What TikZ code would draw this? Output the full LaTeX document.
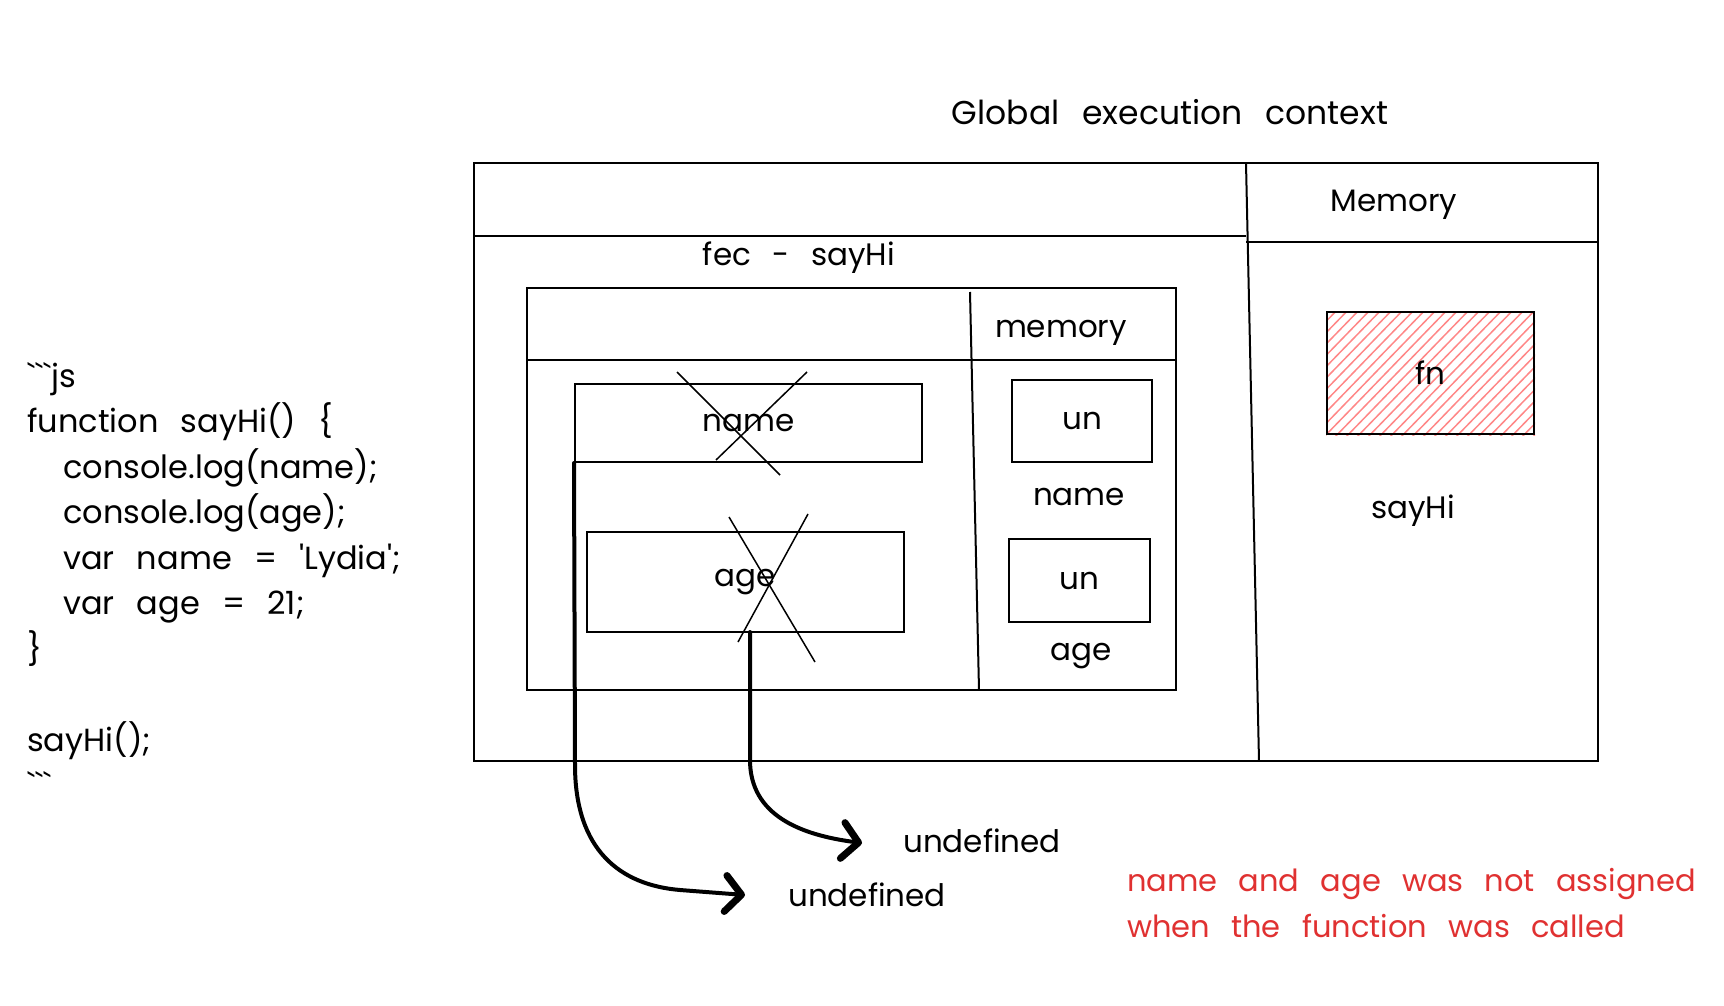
\documentclass[tikz,border=0pt]{standalone}
\usepackage{fontspec}
\setmainfont{Poppins}[WordSpace=2.6]
\usetikzlibrary{arrows.meta}
\definecolor{exred}{HTML}{E03131}
\definecolor{hatchred}{HTML}{FF8787}
\newcommand{\bt}{\textasciigrave}
\newcommand{\sq}{\textquotesingle}
\begin{document}
\begin{tikzpicture}[x=1pt,y=-1pt,
  frame/.style={draw, line width=2pt, inner sep=0pt},
  lbl/.style={inner sep=0pt, font=\fontsize{31}{36}\selectfont},
  redlbl/.style={inner sep=0pt, text=exred, align=left, anchor=west, font=\fontsize{30.5}{46}\selectfont},
  strike/.style={line width=1.5pt},
  flow/.style={line width=4pt, line cap=round, -{Straight Barb[length=16pt, width=36pt, line width=7pt, round]}}
]
\useasboundingbox (0,0) rectangle (1724,1006);
% code
\node[inner sep=0pt, anchor=north west, align=left, font=\fontsize{32}{45.5}\selectfont] (code) at (27,362)
{\bt\bt\bt js\\
function sayHi() \{\\
\hspace*{36pt}console.log(name);\\
\hspace*{36pt}console.log(age);\\
\hspace*{36pt}var name = \sq Lydia\sq;\\
\hspace*{36pt}var age = 21;\\
\}\\
\mbox{}\\
sayHi();\\
\bt\bt\bt};
% title
\node[inner sep=0pt, font=\fontsize{33}{38}\selectfont] (title) at (1170,112) {Global execution context};
% outer frame
\node[frame, minimum width=1124pt, minimum height=598pt] (outer) at (1036,462) {};
\coordinate (gdivtop) at (1246,163);
\coordinate (gdivbot) at (1259,761);
\draw[line width=2pt] (gdivtop) -- (gdivbot);
\draw[line width=2pt] (outer.west |- 0,236) -- (1246,236);
\draw[line width=2pt] (1246,242) -- (outer.east |- 0,242);
\node[lbl] (memG) at (1394,205) {Memory};
% fn
\node[frame, minimum width=207pt, minimum height=122pt] (fn) at (1430.5,373) {};
\begin{scope}
\clip (fn.south west) rectangle (fn.north east);
\foreach \i in {0,...,31} {
  \draw[hatchred, line width=1.5pt] (1200+\i*11,440) -- (1330+\i*11,306);
}
\end{scope}
\node[frame, minimum width=207pt, minimum height=122pt, lbl] (fnb) at (1430.5,373) {fn};
\node[lbl] (sayhiG) at (1413,511) {sayHi};
% fec
\node[lbl] (fec) at (799,258) {fec - sayHi};
\node[frame, minimum width=649pt, minimum height=402pt] (inner) at (851.5,489) {};
\draw[line width=2pt] (inner.west |- 0,360) -- (inner.east |- 0,360);
\coordinate (idivtop) at (970,292);
\coordinate (idivbot) at (979,690);
\draw[line width=2pt] (idivtop) -- (idivbot);
\node[lbl] (memI) at (1061,333) {memory};
% name/age boxes
\node[frame, lbl, minimum width=347pt, minimum height=78pt] (namebox) at (748.5,423) {name};
\node[frame, lbl, minimum width=317pt, minimum height=100pt] (agebox) at (745.5,582) {age};
\draw[strike] (677,372) -- (780,475);
\draw[strike] (807,372) -- (716,460);
\draw[strike] (729,517) -- (815,662);
\draw[strike] (808,514) -- (738,642);
% un boxes
\node[frame, lbl, minimum width=140pt, minimum height=82pt] (un1) at (1082,421) {un};
\node[lbl] (nameI) at (1079,497) {name};
\node[frame, lbl, minimum width=141pt, minimum height=83pt] (un2) at (1079.5,580.5) {un};
\node[lbl] (ageI) at (1081,656) {age};
% undefined labels
\node[lbl, anchor=west] (u1) at (788,895) {undefined};
\node[lbl, anchor=west] (u2) at (903,841) {undefined};
\coordinate (t1) at (745,895);
\coordinate (t2) at (862,843);
\draw[flow] (namebox.south west) -- (575,765) .. controls (575,850) and (620,885) .. (680,890) -- (t1);
\draw[flow] (750,632) -- (750,760) .. controls (750,815) and (800,835) .. (t2);
% red note
\node[redlbl] (note) at (1127,903) {name and age was not assigned\\when the function was called};
\end{tikzpicture}
\end{document}
